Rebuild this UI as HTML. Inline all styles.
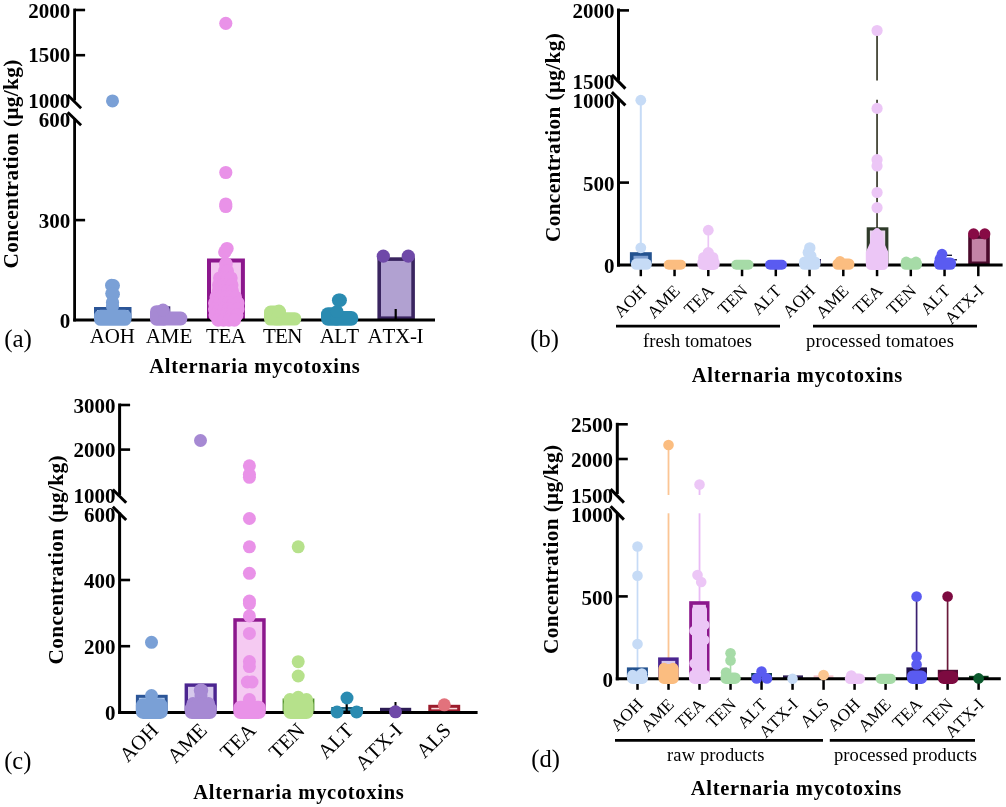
<!DOCTYPE html>
<html lang="en"><head><meta charset="utf-8"><title>Alternaria mycotoxins</title>
<style>html,body{margin:0;padding:0;background:#fff}svg{display:block}text{font-kerning:none}</style></head>
<body><svg width="1006" height="807" viewBox="0 0 1006 807">
<rect width="1006" height="807" fill="#ffffff"/>
<rect x="95.50" y="308.50" width="34.50" height="10.00" fill="#a9c4ea" stroke="#2b5597" stroke-width="3"/>
<rect x="209.00" y="260.50" width="33.90" height="57.50" fill="#f3c6f0" stroke="#8c178d" stroke-width="4"/>
<rect x="379.20" y="259.10" width="33.90" height="59.10" fill="#b1a1d1" stroke="#3a2560" stroke-width="3.6"/>
<line x1="74.60" y1="8.60" x2="74.60" y2="100.50" stroke="#000" stroke-width="2.8" stroke-linecap="butt"/>
<line x1="74.60" y1="118.00" x2="74.60" y2="321.40" stroke="#000" stroke-width="2.8" stroke-linecap="butt"/>
<line x1="67.70" y1="94.90" x2="81.10" y2="108.30" stroke="#000" stroke-width="2.8" stroke-linecap="butt"/>
<line x1="67.70" y1="112.20" x2="81.10" y2="125.30" stroke="#000" stroke-width="2.8" stroke-linecap="butt"/>
<line x1="73.20" y1="320.00" x2="435.00" y2="320.00" stroke="#000" stroke-width="2.8" stroke-linecap="butt"/>
<line x1="74.60" y1="10.00" x2="85.10" y2="10.00" stroke="#000" stroke-width="2.6" stroke-linecap="butt"/>
<line x1="74.60" y1="55.20" x2="85.10" y2="55.20" stroke="#000" stroke-width="2.6" stroke-linecap="butt"/>
<line x1="74.60" y1="220.10" x2="85.10" y2="220.10" stroke="#000" stroke-width="2.6" stroke-linecap="butt"/>
<text x="70.30" y="17.80" font-size="21" font-family="Liberation Serif, Times New Roman, serif" text-anchor="end" font-weight="bold" >2000</text>
<text x="70.30" y="62.40" font-size="21" font-family="Liberation Serif, Times New Roman, serif" text-anchor="end" font-weight="bold" >1500</text>
<text x="70.30" y="107.60" font-size="21" font-family="Liberation Serif, Times New Roman, serif" text-anchor="end" font-weight="bold" >1000</text>
<text x="70.30" y="126.50" font-size="21" font-family="Liberation Serif, Times New Roman, serif" text-anchor="end" font-weight="bold" >600</text>
<text x="70.30" y="227.80" font-size="21" font-family="Liberation Serif, Times New Roman, serif" text-anchor="end" font-weight="bold" >300</text>
<text x="70.30" y="327.80" font-size="21" font-family="Liberation Serif, Times New Roman, serif" text-anchor="end" font-weight="bold" >0</text>
<text x="17.80" y="164.10" font-size="21.3" font-family="Liberation Serif, Times New Roman, serif" text-anchor="middle" font-weight="bold" transform="rotate(-90 17.80 164.10)" textLength="209" lengthAdjust="spacing" >Concentration (μg/kg)</text>
<line x1="395.70" y1="309.00" x2="395.70" y2="320.00" stroke="#000" stroke-width="2.2" stroke-linecap="butt"/>
<line x1="169.20" y1="306.30" x2="169.20" y2="313.00" stroke="#3b2a6e" stroke-width="2.2" stroke-linecap="butt"/>
<circle cx="112.50" cy="100.90" r="6.5" fill="#7aa0d6"/>
<circle cx="111.60" cy="285.30" r="6.6" fill="#7aa0d6"/>
<circle cx="113.40" cy="285.60" r="6.6" fill="#7aa0d6"/>
<circle cx="111.80" cy="293.60" r="6.6" fill="#7aa0d6"/>
<circle cx="113.30" cy="294.20" r="6.6" fill="#7aa0d6"/>
<circle cx="112.50" cy="302.50" r="6.6" fill="#7aa0d6"/>
<circle cx="112.50" cy="306.00" r="6.6" fill="#7aa0d6"/>
<rect x="94" y="309.7" width="37.5" height="16.1" rx="6.5" fill="#7aa0d6"/>
<rect x="150" y="305.2" width="20" height="20.5" rx="6.5" fill="#a689d3"/>
<rect x="158" y="311.5" width="29.3" height="14" rx="6.5" fill="#a689d3"/>
<circle cx="163.00" cy="310.00" r="6.5" fill="#a689d3"/>
<circle cx="225.80" cy="23.30" r="6.6" fill="#e992e8"/>
<circle cx="225.80" cy="172.50" r="6.6" fill="#e992e8"/>
<circle cx="225.80" cy="204.00" r="6.6" fill="#e992e8"/>
<circle cx="225.80" cy="206.50" r="6.6" fill="#e992e8"/>
<circle cx="227.00" cy="248.60" r="6.7" fill="#e992e8"/>
<circle cx="224.80" cy="252.00" r="6.7" fill="#e992e8"/>
<circle cx="225.90" cy="264.00" r="6.9" fill="#e992e8"/>
<circle cx="224.60" cy="271.00" r="6.6" fill="#e992e8"/>
<circle cx="227.40" cy="271.00" r="6.6" fill="#e992e8"/>
<circle cx="219.60" cy="278.00" r="6.6" fill="#e992e8"/>
<circle cx="223.43" cy="278.00" r="6.6" fill="#e992e8"/>
<circle cx="227.27" cy="278.00" r="6.6" fill="#e992e8"/>
<circle cx="231.10" cy="278.00" r="6.6" fill="#e992e8"/>
<circle cx="218.60" cy="285.00" r="6.6" fill="#e992e8"/>
<circle cx="223.03" cy="285.00" r="6.6" fill="#e992e8"/>
<circle cx="227.47" cy="285.00" r="6.6" fill="#e992e8"/>
<circle cx="231.90" cy="285.00" r="6.6" fill="#e992e8"/>
<circle cx="218.30" cy="291.00" r="6.6" fill="#e992e8"/>
<circle cx="223.00" cy="291.00" r="6.6" fill="#e992e8"/>
<circle cx="227.70" cy="291.00" r="6.6" fill="#e992e8"/>
<circle cx="232.40" cy="291.00" r="6.6" fill="#e992e8"/>
<circle cx="216.10" cy="297.00" r="6.6" fill="#e992e8"/>
<circle cx="220.93" cy="297.00" r="6.6" fill="#e992e8"/>
<circle cx="225.75" cy="297.00" r="6.6" fill="#e992e8"/>
<circle cx="230.57" cy="297.00" r="6.6" fill="#e992e8"/>
<circle cx="235.40" cy="297.00" r="6.6" fill="#e992e8"/>
<circle cx="214.60" cy="303.00" r="6.6" fill="#e992e8"/>
<circle cx="219.28" cy="303.00" r="6.6" fill="#e992e8"/>
<circle cx="223.96" cy="303.00" r="6.6" fill="#e992e8"/>
<circle cx="228.64" cy="303.00" r="6.6" fill="#e992e8"/>
<circle cx="233.32" cy="303.00" r="6.6" fill="#e992e8"/>
<circle cx="238.00" cy="303.00" r="6.6" fill="#e992e8"/>
<circle cx="214.60" cy="309.00" r="6.6" fill="#e992e8"/>
<circle cx="219.28" cy="309.00" r="6.6" fill="#e992e8"/>
<circle cx="223.96" cy="309.00" r="6.6" fill="#e992e8"/>
<circle cx="228.64" cy="309.00" r="6.6" fill="#e992e8"/>
<circle cx="233.32" cy="309.00" r="6.6" fill="#e992e8"/>
<circle cx="238.00" cy="309.00" r="6.6" fill="#e992e8"/>
<circle cx="215.10" cy="315.00" r="6.6" fill="#e992e8"/>
<circle cx="220.55" cy="315.00" r="6.6" fill="#e992e8"/>
<circle cx="226.00" cy="315.00" r="6.6" fill="#e992e8"/>
<circle cx="231.45" cy="315.00" r="6.6" fill="#e992e8"/>
<circle cx="236.90" cy="315.00" r="6.6" fill="#e992e8"/>
<circle cx="218.10" cy="320.20" r="6.6" fill="#e992e8"/>
<circle cx="223.53" cy="320.20" r="6.6" fill="#e992e8"/>
<circle cx="228.97" cy="320.20" r="6.6" fill="#e992e8"/>
<circle cx="234.40" cy="320.20" r="6.6" fill="#e992e8"/>
<rect x="264" y="305.6" width="22" height="20" rx="6.5" fill="#b6e18b"/>
<rect x="270" y="312.2" width="31.3" height="13.4" rx="6.5" fill="#b6e18b"/>
<circle cx="279.00" cy="311.00" r="6.5" fill="#b6e18b"/>
<circle cx="338.60" cy="300.20" r="6.7" fill="#2a8bb1"/>
<circle cx="340.20" cy="300.20" r="6.7" fill="#2a8bb1"/>
<rect x="321" y="307.3" width="22" height="18.4" rx="7" fill="#2a8bb1"/>
<rect x="330" y="311" width="28.3" height="14.7" rx="7" fill="#2a8bb1"/>
<circle cx="337.00" cy="311.50" r="6.5" fill="#2a8bb1"/>
<circle cx="383.30" cy="256.20" r="6.6" fill="#6f49a8"/>
<circle cx="408.30" cy="256.20" r="6.6" fill="#6f49a8"/>
<text x="112.30" y="342.60" font-size="21" font-family="Liberation Serif, Times New Roman, serif" text-anchor="middle" textLength="45" lengthAdjust="spacing" >AOH</text>
<text x="169.00" y="342.60" font-size="21" font-family="Liberation Serif, Times New Roman, serif" text-anchor="middle" textLength="46.5" lengthAdjust="spacing" >AME</text>
<text x="226.00" y="342.60" font-size="21" font-family="Liberation Serif, Times New Roman, serif" text-anchor="middle" textLength="40" lengthAdjust="spacing" >TEA</text>
<text x="282.70" y="342.60" font-size="21" font-family="Liberation Serif, Times New Roman, serif" text-anchor="middle" textLength="39.5" lengthAdjust="spacing" >TEN</text>
<text x="339.40" y="342.60" font-size="21" font-family="Liberation Serif, Times New Roman, serif" text-anchor="middle" textLength="39.5" lengthAdjust="spacing" >ALT</text>
<text x="395.60" y="342.60" font-size="21" font-family="Liberation Serif, Times New Roman, serif" text-anchor="middle" textLength="56" lengthAdjust="spacing" >ATX-I</text>
<text x="4.20" y="346.60" font-size="25" font-family="Liberation Serif, Times New Roman, serif" text-anchor="start" >(a)</text>
<text x="254.50" y="372.60" font-size="20.5" font-family="Liberation Serif, Times New Roman, serif" text-anchor="middle" font-weight="bold" textLength="210.5" lengthAdjust="spacing" >Alternaria mycotoxins</text>
<line x1="640.80" y1="100.20" x2="640.80" y2="265.10" stroke="#c6dbf6" stroke-width="2.0" stroke-linecap="butt"/>
<line x1="708.30" y1="230.20" x2="708.30" y2="265.10" stroke="#ecc6f6" stroke-width="1.7" stroke-linecap="butt"/>
<line x1="877.05" y1="30.50" x2="877.05" y2="80.40" stroke="#2b2c1c" stroke-width="1.6" stroke-linecap="butt"/>
<line x1="877.05" y1="99.80" x2="877.05" y2="230.00" stroke="#2b2c1c" stroke-width="1.6" stroke-linecap="butt"/>
<rect x="631.70" y="254.00" width="18.30" height="9.30" fill="#7f9fd0" stroke="#23528f" stroke-width="3.6"/>
<rect x="868.30" y="228.90" width="18.50" height="34.60" fill="#e9d4ee" stroke="#2f3b2a" stroke-width="3.2"/>
<rect x="970.00" y="237.00" width="18.00" height="26.30" fill="#c383a6" stroke="#4b0a2c" stroke-width="3.6"/>
<rect x="812.00" y="260.00" width="8.00" height="4.10" fill="#8d8dd0" stroke="#2a1d5a" stroke-width="2"/>
<line x1="946.00" y1="255.30" x2="952.00" y2="255.30" stroke="#1d1d3a" stroke-width="1.4" stroke-linecap="butt"/>
<line x1="952.00" y1="259.80" x2="957.00" y2="259.80" stroke="#1d1d3a" stroke-width="1.4" stroke-linecap="butt"/>
<line x1="618.50" y1="8.50" x2="618.50" y2="80.50" stroke="#000" stroke-width="3" stroke-linecap="butt"/>
<line x1="618.50" y1="98.60" x2="618.50" y2="266.60" stroke="#000" stroke-width="3" stroke-linecap="butt"/>
<line x1="611.90" y1="74.90" x2="625.40" y2="88.60" stroke="#000" stroke-width="3" stroke-linecap="butt"/>
<line x1="611.90" y1="92.20" x2="625.40" y2="105.30" stroke="#000" stroke-width="3" stroke-linecap="butt"/>
<line x1="617.00" y1="265.10" x2="1002.60" y2="265.10" stroke="#000" stroke-width="3" stroke-linecap="butt"/>
<line x1="618.50" y1="10.40" x2="629.00" y2="10.40" stroke="#000" stroke-width="2.6" stroke-linecap="butt"/>
<line x1="618.50" y1="182.60" x2="629.00" y2="182.60" stroke="#000" stroke-width="2.6" stroke-linecap="butt"/>
<line x1="640.80" y1="265.10" x2="640.80" y2="276.20" stroke="#000" stroke-width="2.5" stroke-linecap="butt"/>
<line x1="674.55" y1="265.10" x2="674.55" y2="276.20" stroke="#000" stroke-width="2.5" stroke-linecap="butt"/>
<line x1="708.30" y1="265.10" x2="708.30" y2="276.20" stroke="#000" stroke-width="2.5" stroke-linecap="butt"/>
<line x1="742.05" y1="265.10" x2="742.05" y2="276.20" stroke="#000" stroke-width="2.5" stroke-linecap="butt"/>
<line x1="775.80" y1="265.10" x2="775.80" y2="276.20" stroke="#000" stroke-width="2.5" stroke-linecap="butt"/>
<line x1="809.55" y1="265.10" x2="809.55" y2="276.20" stroke="#000" stroke-width="2.5" stroke-linecap="butt"/>
<line x1="843.30" y1="265.10" x2="843.30" y2="276.20" stroke="#000" stroke-width="2.5" stroke-linecap="butt"/>
<line x1="877.05" y1="265.10" x2="877.05" y2="276.20" stroke="#000" stroke-width="2.5" stroke-linecap="butt"/>
<line x1="910.80" y1="265.10" x2="910.80" y2="276.20" stroke="#000" stroke-width="2.5" stroke-linecap="butt"/>
<line x1="944.55" y1="265.10" x2="944.55" y2="276.20" stroke="#000" stroke-width="2.5" stroke-linecap="butt"/>
<line x1="978.30" y1="265.10" x2="978.30" y2="276.20" stroke="#000" stroke-width="2.5" stroke-linecap="butt"/>
<text x="614.60" y="17.50" font-size="21" font-family="Liberation Serif, Times New Roman, serif" text-anchor="end" font-weight="bold" >2000</text>
<text x="614.60" y="89.40" font-size="21" font-family="Liberation Serif, Times New Roman, serif" text-anchor="end" font-weight="bold" >1500</text>
<text x="614.60" y="107.90" font-size="21" font-family="Liberation Serif, Times New Roman, serif" text-anchor="end" font-weight="bold" >1000</text>
<text x="614.60" y="190.60" font-size="21" font-family="Liberation Serif, Times New Roman, serif" text-anchor="end" font-weight="bold" >500</text>
<text x="614.60" y="272.90" font-size="21" font-family="Liberation Serif, Times New Roman, serif" text-anchor="end" font-weight="bold" >0</text>
<text x="559.80" y="137.60" font-size="21.3" font-family="Liberation Serif, Times New Roman, serif" text-anchor="middle" font-weight="bold" transform="rotate(-90 559.80 137.60)" textLength="209" lengthAdjust="spacing" >Concentration (μg/kg)</text>
<circle cx="640.80" cy="100.20" r="5.4" fill="#c6dbf6"/>
<circle cx="640.80" cy="247.80" r="5.4" fill="#c6dbf6"/>
<rect x="630.90" y="258.60" width="20.90" height="11.20" rx="5.4" fill="#c6dbf6"/>
<rect x="663.70" y="259.80" width="22.30" height="10.00" rx="5" fill="#fbbd80"/>
<circle cx="708.30" cy="230.20" r="5.4" fill="#ecc6f6"/>
<circle cx="708.30" cy="252.60" r="5.6" fill="#ecc6f6"/>
<circle cx="703.80" cy="257.50" r="5.6" fill="#ecc6f6"/>
<circle cx="712.80" cy="257.50" r="5.6" fill="#ecc6f6"/>
<rect x="697.30" y="256.50" width="22.40" height="13.50" rx="6" fill="#ecc6f6"/>
<rect x="731.30" y="259.80" width="22.20" height="10.00" rx="5" fill="#a6dba7"/>
<rect x="765.00" y="259.80" width="22.00" height="10.00" rx="5" fill="#5a5bf1"/>
<circle cx="809.80" cy="247.90" r="5.7" fill="#c6dbf6"/>
<circle cx="808.30" cy="252.50" r="5.7" fill="#c6dbf6"/>
<circle cx="811.00" cy="256.00" r="5.5" fill="#c6dbf6"/>
<rect x="799.00" y="256.50" width="21.50" height="13.30" rx="5.5" fill="#c6dbf6"/>
<circle cx="840.00" cy="261.30" r="5.2" fill="#fbbd80"/>
<rect x="832.50" y="258.50" width="21.90" height="11.30" rx="5.3" fill="#fbbd80"/>
<circle cx="877.05" cy="30.50" r="5.6" fill="#ecc6f6"/>
<circle cx="877.05" cy="108.40" r="5.6" fill="#ecc6f6"/>
<circle cx="877.05" cy="159.70" r="5.6" fill="#ecc6f6"/>
<circle cx="877.05" cy="166.00" r="5.6" fill="#ecc6f6"/>
<circle cx="877.05" cy="192.50" r="5.6" fill="#ecc6f6"/>
<circle cx="877.05" cy="207.70" r="5.6" fill="#ecc6f6"/>
<path d="M871.2 233.5 Q877.0 222.5 882.8 233.5 L884.0 243 L888.3 252 L888.3 264 Q888.3 270 882.5 270 L871.5 270 Q865.8 270 865.8 264 L865.8 252 L870.0 243 Z" fill="#ecc6f6"/>
<circle cx="906.20" cy="262.00" r="5.4" fill="#a6dba7"/>
<circle cx="916.00" cy="262.00" r="5.4" fill="#a6dba7"/>
<rect x="900.60" y="258.50" width="21.40" height="11.30" rx="5.3" fill="#a6dba7"/>
<circle cx="942.00" cy="254.20" r="5.4" fill="#5a5bf1"/>
<circle cx="940.00" cy="259.00" r="5.4" fill="#5a5bf1"/>
<rect x="933.90" y="257.50" width="22.10" height="12.30" rx="5.5" fill="#5a5bf1"/>
<circle cx="973.60" cy="233.90" r="5.6" fill="#870b45"/>
<circle cx="984.80" cy="233.90" r="5.6" fill="#870b45"/>
<text x="647.30" y="292.00" font-size="17.3" font-family="Liberation Serif, Times New Roman, serif" text-anchor="end" transform="rotate(-45 647.30 292.00)" >AOH</text>
<text x="681.05" y="292.00" font-size="17.3" font-family="Liberation Serif, Times New Roman, serif" text-anchor="end" transform="rotate(-45 681.05 292.00)" >AME</text>
<text x="714.80" y="292.00" font-size="17.3" font-family="Liberation Serif, Times New Roman, serif" text-anchor="end" transform="rotate(-45 714.80 292.00)" >TEA</text>
<text x="748.55" y="292.00" font-size="17.3" font-family="Liberation Serif, Times New Roman, serif" text-anchor="end" transform="rotate(-45 748.55 292.00)" >TEN</text>
<text x="782.30" y="292.00" font-size="17.3" font-family="Liberation Serif, Times New Roman, serif" text-anchor="end" transform="rotate(-45 782.30 292.00)" >ALT</text>
<text x="816.05" y="292.00" font-size="17.3" font-family="Liberation Serif, Times New Roman, serif" text-anchor="end" transform="rotate(-45 816.05 292.00)" >AOH</text>
<text x="849.80" y="292.00" font-size="17.3" font-family="Liberation Serif, Times New Roman, serif" text-anchor="end" transform="rotate(-45 849.80 292.00)" >AME</text>
<text x="883.55" y="292.00" font-size="17.3" font-family="Liberation Serif, Times New Roman, serif" text-anchor="end" transform="rotate(-45 883.55 292.00)" >TEA</text>
<text x="917.30" y="292.00" font-size="17.3" font-family="Liberation Serif, Times New Roman, serif" text-anchor="end" transform="rotate(-45 917.30 292.00)" >TEN</text>
<text x="951.05" y="292.00" font-size="17.3" font-family="Liberation Serif, Times New Roman, serif" text-anchor="end" transform="rotate(-45 951.05 292.00)" >ALT</text>
<text x="984.80" y="292.00" font-size="17.3" font-family="Liberation Serif, Times New Roman, serif" text-anchor="end" transform="rotate(-45 984.80 292.00)" >ATX-I</text>
<line x1="616.00" y1="326.20" x2="780.00" y2="326.20" stroke="#000" stroke-width="2.8" stroke-linecap="butt"/>
<line x1="813.00" y1="326.20" x2="977.00" y2="326.20" stroke="#000" stroke-width="2.8" stroke-linecap="butt"/>
<text x="697.50" y="346.60" font-size="18.5" font-family="Liberation Serif, Times New Roman, serif" text-anchor="middle" textLength="109" lengthAdjust="spacing" >fresh tomatoes</text>
<text x="880.00" y="346.60" font-size="18.5" font-family="Liberation Serif, Times New Roman, serif" text-anchor="middle" textLength="148" lengthAdjust="spacing" >processed tomatoes</text>
<text x="530.30" y="346.80" font-size="24.5" font-family="Liberation Serif, Times New Roman, serif" text-anchor="start" >(b)</text>
<text x="797.00" y="381.70" font-size="20.5" font-family="Liberation Serif, Times New Roman, serif" text-anchor="middle" font-weight="bold" textLength="210.5" lengthAdjust="spacing" >Alternaria mycotoxins</text>
<rect x="137.40" y="696.30" width="28.80" height="14.60" fill="#a9c4ea" stroke="#2b5597" stroke-width="3"/>
<rect x="186.30" y="685.10" width="28.80" height="25.60" fill="#d6c9ec" stroke="#4b2590" stroke-width="3.4"/>
<rect x="235.05" y="619.95" width="28.90" height="90.70" fill="#f5caf2" stroke="#8c178d" stroke-width="3.5"/>
<rect x="284.10" y="700.00" width="28.80" height="10.90" fill="#d4eeb8" stroke="#4f8f2a" stroke-width="3"/>
<rect x="332.50" y="708.20" width="29.00" height="3.00" fill="#8cc4d8" stroke="#1d5f7a" stroke-width="2.4"/>
<rect x="381.20" y="709.00" width="28.80" height="2.20" fill="#3a2a6a" stroke="#2d1d55" stroke-width="2.4"/>
<rect x="429.80" y="706.30" width="28.90" height="4.60" fill="#f9d5d8" stroke="#9b1b2b" stroke-width="3"/>
<line x1="119.60" y1="403.50" x2="119.60" y2="495.00" stroke="#000" stroke-width="3" stroke-linecap="butt"/>
<line x1="119.60" y1="512.50" x2="119.60" y2="713.90" stroke="#000" stroke-width="3" stroke-linecap="butt"/>
<line x1="112.80" y1="489.50" x2="126.20" y2="502.80" stroke="#000" stroke-width="3" stroke-linecap="butt"/>
<line x1="112.80" y1="506.80" x2="126.20" y2="520.00" stroke="#000" stroke-width="3" stroke-linecap="butt"/>
<line x1="118.10" y1="712.40" x2="477.60" y2="712.40" stroke="#000" stroke-width="3" stroke-linecap="butt"/>
<line x1="119.60" y1="405.00" x2="130.10" y2="405.00" stroke="#000" stroke-width="2.6" stroke-linecap="butt"/>
<line x1="119.60" y1="449.60" x2="130.10" y2="449.60" stroke="#000" stroke-width="2.6" stroke-linecap="butt"/>
<line x1="119.60" y1="580.00" x2="130.10" y2="580.00" stroke="#000" stroke-width="2.6" stroke-linecap="butt"/>
<line x1="119.60" y1="646.20" x2="130.10" y2="646.20" stroke="#000" stroke-width="2.6" stroke-linecap="butt"/>
<text x="115.60" y="412.50" font-size="21" font-family="Liberation Serif, Times New Roman, serif" text-anchor="end" font-weight="bold" >3000</text>
<text x="115.60" y="457.20" font-size="21" font-family="Liberation Serif, Times New Roman, serif" text-anchor="end" font-weight="bold" >2000</text>
<text x="115.60" y="502.60" font-size="21" font-family="Liberation Serif, Times New Roman, serif" text-anchor="end" font-weight="bold" >1000</text>
<text x="115.60" y="521.80" font-size="21" font-family="Liberation Serif, Times New Roman, serif" text-anchor="end" font-weight="bold" >600</text>
<text x="115.60" y="588.30" font-size="21" font-family="Liberation Serif, Times New Roman, serif" text-anchor="end" font-weight="bold" >400</text>
<text x="115.60" y="654.20" font-size="21" font-family="Liberation Serif, Times New Roman, serif" text-anchor="end" font-weight="bold" >200</text>
<text x="115.60" y="720.40" font-size="21" font-family="Liberation Serif, Times New Roman, serif" text-anchor="end" font-weight="bold" >0</text>
<text x="62.80" y="559.90" font-size="21.3" font-family="Liberation Serif, Times New Roman, serif" text-anchor="middle" font-weight="bold" transform="rotate(-90 62.80 559.90)" textLength="209" lengthAdjust="spacing" >Concentration (μg/kg)</text>
<line x1="346.70" y1="697.00" x2="346.70" y2="712.40" stroke="#000" stroke-width="2.2" stroke-linecap="butt"/>
<line x1="395.50" y1="702.00" x2="395.50" y2="712.40" stroke="#000" stroke-width="2.0" stroke-linecap="butt"/>
<circle cx="151.50" cy="642.30" r="6.5" fill="#7aa0d6"/>
<circle cx="151.50" cy="695.60" r="6.5" fill="#7aa0d6"/>
<rect x="135.90" y="698.40" width="31.80" height="20.50" rx="7" fill="#7aa0d6"/>
<circle cx="200.50" cy="440.50" r="6.5" fill="#a689d3"/>
<circle cx="201.00" cy="690.60" r="7.2" fill="#a689d3"/>
<circle cx="201.00" cy="696.00" r="6.5" fill="#a689d3"/>
<circle cx="193.00" cy="703.50" r="6.5" fill="#a689d3"/>
<circle cx="198.17" cy="703.50" r="6.5" fill="#a689d3"/>
<circle cx="203.33" cy="703.50" r="6.5" fill="#a689d3"/>
<circle cx="208.50" cy="703.50" r="6.5" fill="#a689d3"/>
<rect x="184.80" y="701.50" width="32.00" height="17.50" rx="7" fill="#a689d3"/>
<circle cx="249.40" cy="465.80" r="6.5" fill="#e992e8"/>
<circle cx="249.40" cy="474.30" r="6.5" fill="#e992e8"/>
<circle cx="249.40" cy="477.30" r="6.5" fill="#e992e8"/>
<circle cx="249.40" cy="518.50" r="6.5" fill="#e992e8"/>
<circle cx="249.40" cy="546.80" r="6.5" fill="#e992e8"/>
<circle cx="249.40" cy="573.30" r="6.5" fill="#e992e8"/>
<circle cx="249.40" cy="601.00" r="6.5" fill="#e992e8"/>
<circle cx="249.40" cy="603.60" r="6.5" fill="#e992e8"/>
<circle cx="249.40" cy="615.90" r="6.5" fill="#e992e8"/>
<circle cx="249.40" cy="633.40" r="6.5" fill="#e992e8"/>
<circle cx="249.40" cy="661.60" r="6.5" fill="#e992e8"/>
<circle cx="249.40" cy="666.60" r="6.5" fill="#e992e8"/>
<circle cx="247.30" cy="682.00" r="6.5" fill="#e992e8"/>
<circle cx="252.00" cy="682.00" r="6.5" fill="#e992e8"/>
<circle cx="249.40" cy="699.50" r="6.5" fill="#e992e8"/>
<rect x="233.30" y="700.80" width="32.50" height="18.20" rx="7" fill="#e992e8"/>
<circle cx="298.20" cy="546.80" r="6.5" fill="#b6e18b"/>
<circle cx="298.20" cy="661.70" r="6.5" fill="#b6e18b"/>
<circle cx="298.20" cy="676.00" r="6.5" fill="#b6e18b"/>
<circle cx="298.20" cy="697.30" r="6.5" fill="#b6e18b"/>
<circle cx="290.00" cy="699.50" r="6.5" fill="#b6e18b"/>
<circle cx="306.50" cy="699.50" r="6.5" fill="#b6e18b"/>
<rect x="283.50" y="697.50" width="30.00" height="21.50" rx="7" fill="#b6e18b"/>
<circle cx="337.00" cy="712.00" r="6.5" fill="#2a8bb1"/>
<circle cx="356.60" cy="712.00" r="6.5" fill="#2a8bb1"/>
<circle cx="347.00" cy="698.00" r="6.5" fill="#2a8bb1"/>
<circle cx="395.50" cy="711.80" r="6.5" fill="#6f49a8"/>
<circle cx="444.30" cy="704.80" r="6.5" fill="#e2727c"/>
<text x="159.50" y="731.50" font-size="20.8" font-family="Liberation Serif, Times New Roman, serif" text-anchor="end" transform="rotate(-45 159.50 731.50)" >AOH</text>
<text x="208.30" y="731.50" font-size="20.8" font-family="Liberation Serif, Times New Roman, serif" text-anchor="end" transform="rotate(-45 208.30 731.50)" >AME</text>
<text x="257.10" y="731.50" font-size="20.8" font-family="Liberation Serif, Times New Roman, serif" text-anchor="end" transform="rotate(-45 257.10 731.50)" >TEA</text>
<text x="305.90" y="731.50" font-size="20.8" font-family="Liberation Serif, Times New Roman, serif" text-anchor="end" transform="rotate(-45 305.90 731.50)" >TEN</text>
<text x="354.70" y="731.50" font-size="20.8" font-family="Liberation Serif, Times New Roman, serif" text-anchor="end" transform="rotate(-45 354.70 731.50)" >ALT</text>
<text x="403.50" y="731.50" font-size="20.8" font-family="Liberation Serif, Times New Roman, serif" text-anchor="end" transform="rotate(-45 403.50 731.50)" >ATX-I</text>
<text x="452.30" y="731.50" font-size="20.8" font-family="Liberation Serif, Times New Roman, serif" text-anchor="end" transform="rotate(-45 452.30 731.50)" >ALS</text>
<text x="4.20" y="769.30" font-size="24.5" font-family="Liberation Serif, Times New Roman, serif" text-anchor="start" >(c)</text>
<text x="298.50" y="798.60" font-size="20.5" font-family="Liberation Serif, Times New Roman, serif" text-anchor="middle" font-weight="bold" textLength="210.5" lengthAdjust="spacing" >Alternaria mycotoxins</text>
<line x1="637.50" y1="546.50" x2="637.50" y2="678.80" stroke="#c6dbf6" stroke-width="1.7" stroke-linecap="butt"/>
<line x1="668.51" y1="445.00" x2="668.51" y2="495.00" stroke="#fbc594" stroke-width="1.8" stroke-linecap="butt"/>
<line x1="668.51" y1="513.30" x2="668.51" y2="678.80" stroke="#fbc594" stroke-width="1.8" stroke-linecap="butt"/>
<line x1="699.52" y1="484.60" x2="699.52" y2="495.00" stroke="#e9bbf6" stroke-width="1.8" stroke-linecap="butt"/>
<line x1="699.52" y1="513.30" x2="699.52" y2="678.80" stroke="#e9bbf6" stroke-width="1.8" stroke-linecap="butt"/>
<line x1="730.53" y1="653.00" x2="730.53" y2="672.00" stroke="#a6dba7" stroke-width="1.6" stroke-linecap="butt"/>
<rect x="628.50" y="669.00" width="17.80" height="8.20" fill="#7f9fd0" stroke="#23528f" stroke-width="3.2"/>
<rect x="659.85" y="659.15" width="17.10" height="17.90" fill="#d6c9ec" stroke="#4b2590" stroke-width="3.5"/>
<rect x="691.00" y="603.00" width="16.70" height="74.00" fill="#efc9f6" stroke="#8c178d" stroke-width="3.6"/>
<rect x="752.20" y="674.00" width="18.80" height="3.80" fill="#1d5f7a" stroke="#14424f" stroke-width="2"/>
<rect x="784.00" y="676.40" width="18.00" height="1.40" fill="#3a2560" stroke="#2d1d55" stroke-width="2"/>
<rect x="814.10" y="675.90" width="18.80" height="2.40" fill="#f6c6cd" stroke="#f6c6cd" stroke-width="1"/>
<rect x="907.90" y="668.90" width="17.60" height="8.40" fill="#2a1a5a" stroke="#20104a" stroke-width="3"/>
<rect x="939.30" y="671.30" width="17.20" height="6.00" fill="#6a0a3a" stroke="#560a33" stroke-width="3"/>
<rect x="970.00" y="676.80" width="17.60" height="1.00" fill="#0a3a1a" stroke="#0a3a1a" stroke-width="2"/>
<line x1="916.59" y1="596.50" x2="916.59" y2="668.00" stroke="#3a2070" stroke-width="1.7" stroke-linecap="butt"/>
<line x1="947.60" y1="596.50" x2="947.60" y2="670.00" stroke="#6a1a3a" stroke-width="1.7" stroke-linecap="butt"/>
<line x1="617.30" y1="422.80" x2="617.30" y2="494.00" stroke="#000" stroke-width="3" stroke-linecap="butt"/>
<line x1="617.30" y1="512.80" x2="617.30" y2="680.30" stroke="#000" stroke-width="3" stroke-linecap="butt"/>
<line x1="610.60" y1="489.10" x2="623.90" y2="502.60" stroke="#000" stroke-width="3" stroke-linecap="butt"/>
<line x1="610.60" y1="506.30" x2="623.90" y2="519.60" stroke="#000" stroke-width="3" stroke-linecap="butt"/>
<line x1="615.80" y1="678.80" x2="1000.80" y2="678.80" stroke="#000" stroke-width="3" stroke-linecap="butt"/>
<line x1="617.30" y1="424.30" x2="627.80" y2="424.30" stroke="#000" stroke-width="2.6" stroke-linecap="butt"/>
<line x1="617.30" y1="459.00" x2="627.80" y2="459.00" stroke="#000" stroke-width="2.6" stroke-linecap="butt"/>
<line x1="617.30" y1="596.40" x2="627.80" y2="596.40" stroke="#000" stroke-width="2.6" stroke-linecap="butt"/>
<line x1="637.50" y1="678.80" x2="637.50" y2="689.80" stroke="#000" stroke-width="2.5" stroke-linecap="butt"/>
<line x1="668.51" y1="678.80" x2="668.51" y2="689.80" stroke="#000" stroke-width="2.5" stroke-linecap="butt"/>
<line x1="699.52" y1="678.80" x2="699.52" y2="689.80" stroke="#000" stroke-width="2.5" stroke-linecap="butt"/>
<line x1="730.53" y1="678.80" x2="730.53" y2="689.80" stroke="#000" stroke-width="2.5" stroke-linecap="butt"/>
<line x1="761.54" y1="678.80" x2="761.54" y2="689.80" stroke="#000" stroke-width="2.5" stroke-linecap="butt"/>
<line x1="792.55" y1="678.80" x2="792.55" y2="689.80" stroke="#000" stroke-width="2.5" stroke-linecap="butt"/>
<line x1="823.56" y1="678.80" x2="823.56" y2="689.80" stroke="#000" stroke-width="2.5" stroke-linecap="butt"/>
<line x1="854.57" y1="678.80" x2="854.57" y2="689.80" stroke="#000" stroke-width="2.5" stroke-linecap="butt"/>
<line x1="885.58" y1="678.80" x2="885.58" y2="689.80" stroke="#000" stroke-width="2.5" stroke-linecap="butt"/>
<line x1="916.59" y1="678.80" x2="916.59" y2="689.80" stroke="#000" stroke-width="2.5" stroke-linecap="butt"/>
<line x1="947.60" y1="678.80" x2="947.60" y2="689.80" stroke="#000" stroke-width="2.5" stroke-linecap="butt"/>
<line x1="978.61" y1="678.80" x2="978.61" y2="689.80" stroke="#000" stroke-width="2.5" stroke-linecap="butt"/>
<text x="612.90" y="432.20" font-size="21" font-family="Liberation Serif, Times New Roman, serif" text-anchor="end" font-weight="bold" >2500</text>
<text x="612.90" y="467.30" font-size="21" font-family="Liberation Serif, Times New Roman, serif" text-anchor="end" font-weight="bold" >2000</text>
<text x="612.90" y="502.90" font-size="21" font-family="Liberation Serif, Times New Roman, serif" text-anchor="end" font-weight="bold" >1500</text>
<text x="612.90" y="522.10" font-size="21" font-family="Liberation Serif, Times New Roman, serif" text-anchor="end" font-weight="bold" >1000</text>
<text x="612.90" y="604.60" font-size="21" font-family="Liberation Serif, Times New Roman, serif" text-anchor="end" font-weight="bold" >500</text>
<text x="612.90" y="686.80" font-size="21" font-family="Liberation Serif, Times New Roman, serif" text-anchor="end" font-weight="bold" >0</text>
<text x="558.00" y="549.40" font-size="21.3" font-family="Liberation Serif, Times New Roman, serif" text-anchor="middle" font-weight="bold" transform="rotate(-90 558.00 549.40)" textLength="209" lengthAdjust="spacing" >Concentration (μg/kg)</text>
<circle cx="637.50" cy="546.50" r="5.3" fill="#c6dbf6"/>
<circle cx="637.50" cy="575.70" r="5.3" fill="#c6dbf6"/>
<circle cx="637.50" cy="644.00" r="5.3" fill="#c6dbf6"/>
<circle cx="632.60" cy="675.20" r="5.4" fill="#c6dbf6"/>
<circle cx="641.80" cy="673.60" r="5.4" fill="#c6dbf6"/>
<rect x="627.00" y="672.50" width="21.00" height="11.40" rx="5.5" fill="#c6dbf6"/>
<circle cx="668.51" cy="445.00" r="5.3" fill="#fbbd80"/>
<circle cx="664.00" cy="668.00" r="5.3" fill="#fbbd80"/>
<circle cx="673.00" cy="668.00" r="5.3" fill="#fbbd80"/>
<rect x="658.40" y="664.00" width="20.30" height="19.90" rx="5.5" fill="#fbbd80"/>
<circle cx="699.52" cy="484.60" r="5.3" fill="#ecc6f6"/>
<circle cx="697.50" cy="575.00" r="5.3" fill="#ecc6f6"/>
<circle cx="701.20" cy="582.00" r="5.3" fill="#ecc6f6"/>
<rect x="692.00" y="606.00" width="15.00" height="74.00" rx="4" fill="#ecc6f6"/>
<circle cx="694.60" cy="630.70" r="5.3" fill="#ecc6f6"/>
<circle cx="694.60" cy="663.50" r="5.3" fill="#ecc6f6"/>
<circle cx="704.30" cy="625.00" r="5.3" fill="#ecc6f6"/>
<circle cx="704.30" cy="640.00" r="5.3" fill="#ecc6f6"/>
<rect x="689.00" y="669.50" width="21.00" height="14.40" rx="5.5" fill="#ecc6f6"/>
<circle cx="730.53" cy="653.20" r="5.3" fill="#a6dba7"/>
<circle cx="730.53" cy="660.50" r="5.3" fill="#a6dba7"/>
<circle cx="726.00" cy="672.50" r="5.3" fill="#a6dba7"/>
<rect x="720.40" y="672.40" width="20.30" height="11.50" rx="5.5" fill="#a6dba7"/>
<circle cx="761.50" cy="671.50" r="5.3" fill="#5a5bf1"/>
<circle cx="756.60" cy="678.40" r="5.3" fill="#5a5bf1"/>
<circle cx="767.00" cy="678.40" r="5.3" fill="#5a5bf1"/>
<circle cx="792.55" cy="678.80" r="5.3" fill="#c6dbf6"/>
<circle cx="823.56" cy="675.00" r="5.3" fill="#fbc690"/>
<circle cx="851.30" cy="675.50" r="5.3" fill="#ecc6f6"/>
<rect x="844.80" y="673.60" width="20.20" height="10.30" rx="5.3" fill="#ecc6f6"/>
<rect x="875.60" y="673.80" width="20.40" height="10.10" rx="5.2" fill="#a6dba7"/>
<circle cx="916.59" cy="596.50" r="5.3" fill="#5a5bf1"/>
<circle cx="916.59" cy="656.50" r="5.3" fill="#5a5bf1"/>
<circle cx="916.59" cy="664.50" r="5.3" fill="#5a5bf1"/>
<rect x="907.00" y="670.50" width="20.00" height="13.40" rx="5.5" fill="#5a5bf1"/>
<circle cx="947.60" cy="596.50" r="5.3" fill="#7d0a40"/>
<rect x="938.00" y="671.00" width="20.20" height="12.90" rx="5.5" fill="#7d0a40"/>
<circle cx="978.61" cy="678.40" r="5.3" fill="#0b5a2d"/>
<text x="644.00" y="705.50" font-size="17.3" font-family="Liberation Serif, Times New Roman, serif" text-anchor="end" transform="rotate(-45 644.00 705.50)" >AOH</text>
<text x="675.01" y="705.50" font-size="17.3" font-family="Liberation Serif, Times New Roman, serif" text-anchor="end" transform="rotate(-45 675.01 705.50)" >AME</text>
<text x="706.02" y="705.50" font-size="17.3" font-family="Liberation Serif, Times New Roman, serif" text-anchor="end" transform="rotate(-45 706.02 705.50)" >TEA</text>
<text x="737.03" y="705.50" font-size="17.3" font-family="Liberation Serif, Times New Roman, serif" text-anchor="end" transform="rotate(-45 737.03 705.50)" >TEN</text>
<text x="768.04" y="705.50" font-size="17.3" font-family="Liberation Serif, Times New Roman, serif" text-anchor="end" transform="rotate(-45 768.04 705.50)" >ALT</text>
<text x="799.05" y="705.50" font-size="17.3" font-family="Liberation Serif, Times New Roman, serif" text-anchor="end" transform="rotate(-45 799.05 705.50)" >ATX-I</text>
<text x="830.06" y="705.50" font-size="17.3" font-family="Liberation Serif, Times New Roman, serif" text-anchor="end" transform="rotate(-45 830.06 705.50)" >ALS</text>
<text x="861.07" y="705.50" font-size="17.3" font-family="Liberation Serif, Times New Roman, serif" text-anchor="end" transform="rotate(-45 861.07 705.50)" >AOH</text>
<text x="892.08" y="705.50" font-size="17.3" font-family="Liberation Serif, Times New Roman, serif" text-anchor="end" transform="rotate(-45 892.08 705.50)" >AME</text>
<text x="923.09" y="705.50" font-size="17.3" font-family="Liberation Serif, Times New Roman, serif" text-anchor="end" transform="rotate(-45 923.09 705.50)" >TEA</text>
<text x="954.10" y="705.50" font-size="17.3" font-family="Liberation Serif, Times New Roman, serif" text-anchor="end" transform="rotate(-45 954.10 705.50)" >TEN</text>
<text x="985.11" y="705.50" font-size="17.3" font-family="Liberation Serif, Times New Roman, serif" text-anchor="end" transform="rotate(-45 985.11 705.50)" >ATX-I</text>
<line x1="615.00" y1="740.40" x2="823.00" y2="740.40" stroke="#000" stroke-width="2.8" stroke-linecap="butt"/>
<line x1="829.80" y1="740.40" x2="975.00" y2="740.40" stroke="#000" stroke-width="2.8" stroke-linecap="butt"/>
<text x="715.80" y="760.50" font-size="18.5" font-family="Liberation Serif, Times New Roman, serif" text-anchor="middle" textLength="97.5" lengthAdjust="spacing" >raw products</text>
<text x="905.50" y="760.50" font-size="18.5" font-family="Liberation Serif, Times New Roman, serif" text-anchor="middle" textLength="143" lengthAdjust="spacing" >processed products</text>
<text x="531.30" y="766.60" font-size="24.5" font-family="Liberation Serif, Times New Roman, serif" text-anchor="start" >(d)</text>
<text x="796.00" y="795.00" font-size="20.5" font-family="Liberation Serif, Times New Roman, serif" text-anchor="middle" font-weight="bold" textLength="210.5" lengthAdjust="spacing" >Alternaria mycotoxins</text>
</svg></body></html>
